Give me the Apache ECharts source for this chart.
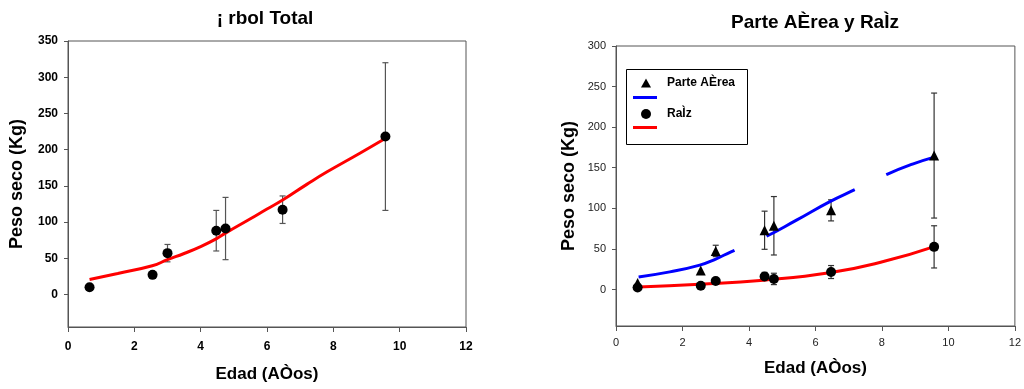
<!DOCTYPE html>
<html>
<head>
<meta charset="utf-8">
<script src="https://cdn.jsdelivr.net/npm/echarts@6/dist/echarts.min.js"></script>
<style>
  html, body { margin: 0; padding: 0; background: #fff; }
  #chart { width: 1024px; height: 389px; }
</style>
</head>
<body>
<div id="chart"></div>
<script>
// ---- Árbol total: ages, dry weight and standard deviation ----
const totalAge   = [0.65, 2.55, 3.0, 4.47, 4.75, 6.47, 9.57];
const totalMass  = [10, 27, 57, 88, 91, 117, 218];
const totalErr   = [0, 0, 12, 28, 43, 19, 102];
// fitted curve for the whole tree [age, kg]
const totalFit = [
  [0.65, 20.5], [1.5, 29], [2.54, 39.5], [3.0, 48], [3.5, 56.5], [4.0, 66],
  [4.48, 77], [4.76, 85], [5.5, 104.5], [6.0, 118], [6.46, 130], [7.2, 152],
  [7.8, 169], [8.8, 195], [9.55, 215]
];

// ---- Parte aérea y raíz ----
const partAge    = [0.65, 2.55, 3.0, 4.47, 4.75, 6.47, 9.57];
const aereaMass  = [8, 23.5, 47.5, 73, 78.5, 97.5, 165];
const aereaErr   = [0, 0, 7, 23.5, 36, 13, 77];
const raizMass   = [2.5, 4.5, 10.5, 16, 13, 21.5, 52.5];
const raizErr    = [0, 0, 0, 5, 7, 8, 26];
const aereaFit = [
  [0.68, 15.5], [1.62, 21.7], [2.52, 30], [3.0, 37.5], [3.46, 46.4], [4.43, 63.6],
  [5.43, 85.4], [6.42, 108], [7.2, 123.3], [8.17, 142.2], [8.92, 154.5], [9.55, 162.8]
];
const raizFit = [
  [0.68, 3.2], [2.52, 6.5], [4.43, 11.5], [6.42, 20.5], [8.1, 35], [9.55, 52.5]
];

// tick labels
const xTicks = [0, 2, 4, 6, 8, 10, 12];
const yTicksTotal = [0, 50, 100, 150, 200, 250, 300, 350];
const yTicksPart  = [0, 50, 100, 150, 200, 250, 300];

const FONT = '"Liberation Sans", Arial, Helvetica, sans-serif';
const AXIS_COLOR = '#555';

const pairs = (xs, ys) => xs.map((x, i) => [x, ys[i]]);
const errRows = (xs, ys, es) => xs.map((x, i) => [x, ys[i], es[i]]).filter(r => r[2] > 0);

// vertical error bar with caps, placed through the axis scales
function errorBar(color, cap) {
  return function (params, api) {
    const x = api.value(0), y = api.value(1), e = api.value(2);
    const hi = api.coord([x, y + e]);
    const lo = api.coord([x, y - e]);
    const style = { stroke: color, lineWidth: 1.2 };
    return {
      type: 'group',
      children: [
        { type: 'line', shape: { x1: hi[0], y1: hi[1], x2: lo[0], y2: lo[1] }, style },
        { type: 'line', shape: { x1: hi[0] - cap, y1: hi[1], x2: hi[0] + cap, y2: hi[1] }, style },
        { type: 'line', shape: { x1: lo[0] - cap, y1: lo[1], x2: lo[0] + cap, y2: lo[1] }, style }
      ]
    };
  };
}

function xAxis(gridIndex, bold, size, margin, nameGap) {
  return {
    gridIndex, type: 'value', min: 0, max: 12, interval: 2,
    name: 'Edad (AÒos)', nameLocation: 'middle', nameGap,
    nameTextStyle: { fontFamily: FONT, fontWeight: 'bold', fontSize: 17, color: '#000' },
    axisLine: { show: true, onZero: false, lineStyle: { color: AXIS_COLOR, width: 1 } },
    axisTick: { show: true, length: 5, lineStyle: { color: AXIS_COLOR } },
    axisLabel: { fontFamily: FONT, fontWeight: bold ? 'bold' : 'normal', fontSize: size, color: bold ? '#000' : '#222', margin,
                 formatter: v => (xTicks.includes(v) ? String(v) : '') },
    splitLine: { show: false }
  };
}

function yAxis(gridIndex, max, ticks, bold, size, margin, nameGap) {
  return {
    gridIndex, type: 'value', min: -45, max,
    name: 'Peso seco (Kg)', nameLocation: 'middle', nameGap,
    nameTextStyle: { fontFamily: FONT, fontWeight: 'bold', fontSize: 18, color: '#000' },
    axisLine: { show: true, onZero: false, lineStyle: { color: AXIS_COLOR, width: 1 } },
    axisTick: { show: true, length: 4, customValues: ticks, lineStyle: { color: AXIS_COLOR } },
    axisLabel: { fontFamily: FONT, fontWeight: bold ? 'bold' : 'normal', fontSize: size, color: bold ? '#000' : '#222', margin,
                 customValues: ticks },
    splitLine: { show: false }
  };
}

const legendText = { fontFamily: FONT, fontWeight: 'bold', fontSize: 12, color: '#000', padding: [0, 0, 0, 11] };

const option = {
  animation: false,
  backgroundColor: '#fff',
  title: [
    { text: '¡ rbol Total', left: 265, top: 9, textAlign: 'center', padding: 0,
      textStyle: { fontFamily: FONT, fontWeight: 'bold', fontSize: 19, color: '#000' } },
    { text: 'Parte AÈrea y RaÌz', left: 815, top: 13, textAlign: 'center', padding: 0,
      textStyle: { fontFamily: FONT, fontWeight: 'bold', fontSize: 19, color: '#000' } }
  ],
  grid: [
    { left: 68, top: 41, width: 398, height: 286, show: true, borderColor: AXIS_COLOR, borderWidth: 1, backgroundColor: 'transparent' },
    { left: 616, top: 46, width: 400, height: 280, show: true, borderColor: AXIS_COLOR, borderWidth: 1, backgroundColor: 'transparent' }
  ],
  xAxis: [xAxis(0, true, 12, 14, 39), xAxis(1, false, 11, 11, 34)],
  yAxis: [yAxis(0, 350, yTicksTotal, true, 12, 10, 42), yAxis(1, 300, yTicksPart, false, 11, 10, 38)],
  legend: [
    { data: [{ name: 'Parte AÈrea', icon: 'triangle' }], left: 641, top: 77, padding: 0,
      itemWidth: 10, itemHeight: 9, selectedMode: false, textStyle: legendText },
    { data: [{ name: 'Ajuste parte aérea', icon: 'rect' }], left: 633, top: 96, padding: 0, formatter: () => '',
      itemWidth: 24, itemHeight: 3, selectedMode: false, textStyle: { fontSize: 1 } },
    { data: [{ name: 'RaÌz', icon: 'circle' }], left: 641, top: 108, padding: 0,
      itemWidth: 10, itemHeight: 10, selectedMode: false, textStyle: legendText },
    { data: [{ name: 'Ajuste raíz', icon: 'rect' }], left: 633, top: 126, padding: 0, formatter: () => '',
      itemWidth: 24, itemHeight: 3, selectedMode: false, textStyle: { fontSize: 1 } }
  ],
  graphic: [
    { type: 'rect', left: 624, top: 67, z: 10, silent: true,
      shape: { width: 121, height: 75 }, style: { fill: 'none', stroke: '#000', lineWidth: 1 } }
  ],
  series: [
    // ---- left panel ----
    { type: 'custom', xAxisIndex: 0, yAxisIndex: 0, renderItem: errorBar('#555', 3),
      data: errRows(totalAge, totalMass, totalErr), z: 2 },
    { name: 'Ajuste total', type: 'line', xAxisIndex: 0, yAxisIndex: 0, data: totalFit, smooth: true,
      symbol: 'none', itemStyle: { color: '#ff0000' }, lineStyle: { color: '#ff0000', width: 3 }, z: 3 },
    { name: 'Árbol total', type: 'scatter', xAxisIndex: 0, yAxisIndex: 0, data: pairs(totalAge, totalMass),
      symbol: 'circle', symbolSize: 10, itemStyle: { color: '#000', opacity: 1 }, z: 4 },

    // ---- right panel ----
    { type: 'custom', xAxisIndex: 1, yAxisIndex: 1, renderItem: errorBar('#333', 3),
      data: errRows(partAge, aereaMass, aereaErr), z: 2 },
    { type: 'custom', xAxisIndex: 1, yAxisIndex: 1, renderItem: errorBar('#333', 3),
      data: errRows(partAge, raizMass, raizErr), z: 2 },
    { name: 'Ajuste parte aérea', type: 'line', xAxisIndex: 1, yAxisIndex: 1, data: aereaFit, smooth: true,
      symbol: 'none', itemStyle: { color: '#0000ff' }, lineStyle: { color: '#0000ff', width: 3, type: [100, 35] }, z: 3 },
    { name: 'Ajuste raíz', type: 'line', xAxisIndex: 1, yAxisIndex: 1, data: raizFit, smooth: true,
      symbol: 'none', itemStyle: { color: '#ff0000' }, lineStyle: { color: '#ff0000', width: 3 }, z: 3 },
    { name: 'Parte AÈrea', type: 'scatter', xAxisIndex: 1, yAxisIndex: 1, data: pairs(partAge, aereaMass),
      symbol: 'triangle', symbolSize: 10, itemStyle: { color: '#000', opacity: 1 }, z: 4 },
    { name: 'RaÌz', type: 'scatter', xAxisIndex: 1, yAxisIndex: 1, data: pairs(partAge, raizMass),
      symbol: 'circle', symbolSize: 10, itemStyle: { color: '#000', opacity: 1 }, z: 4 }
  ]
};

const chart = echarts.init(document.getElementById('chart'), null, { renderer: 'canvas' });
chart.setOption(option);
</script>
</body>
</html>
